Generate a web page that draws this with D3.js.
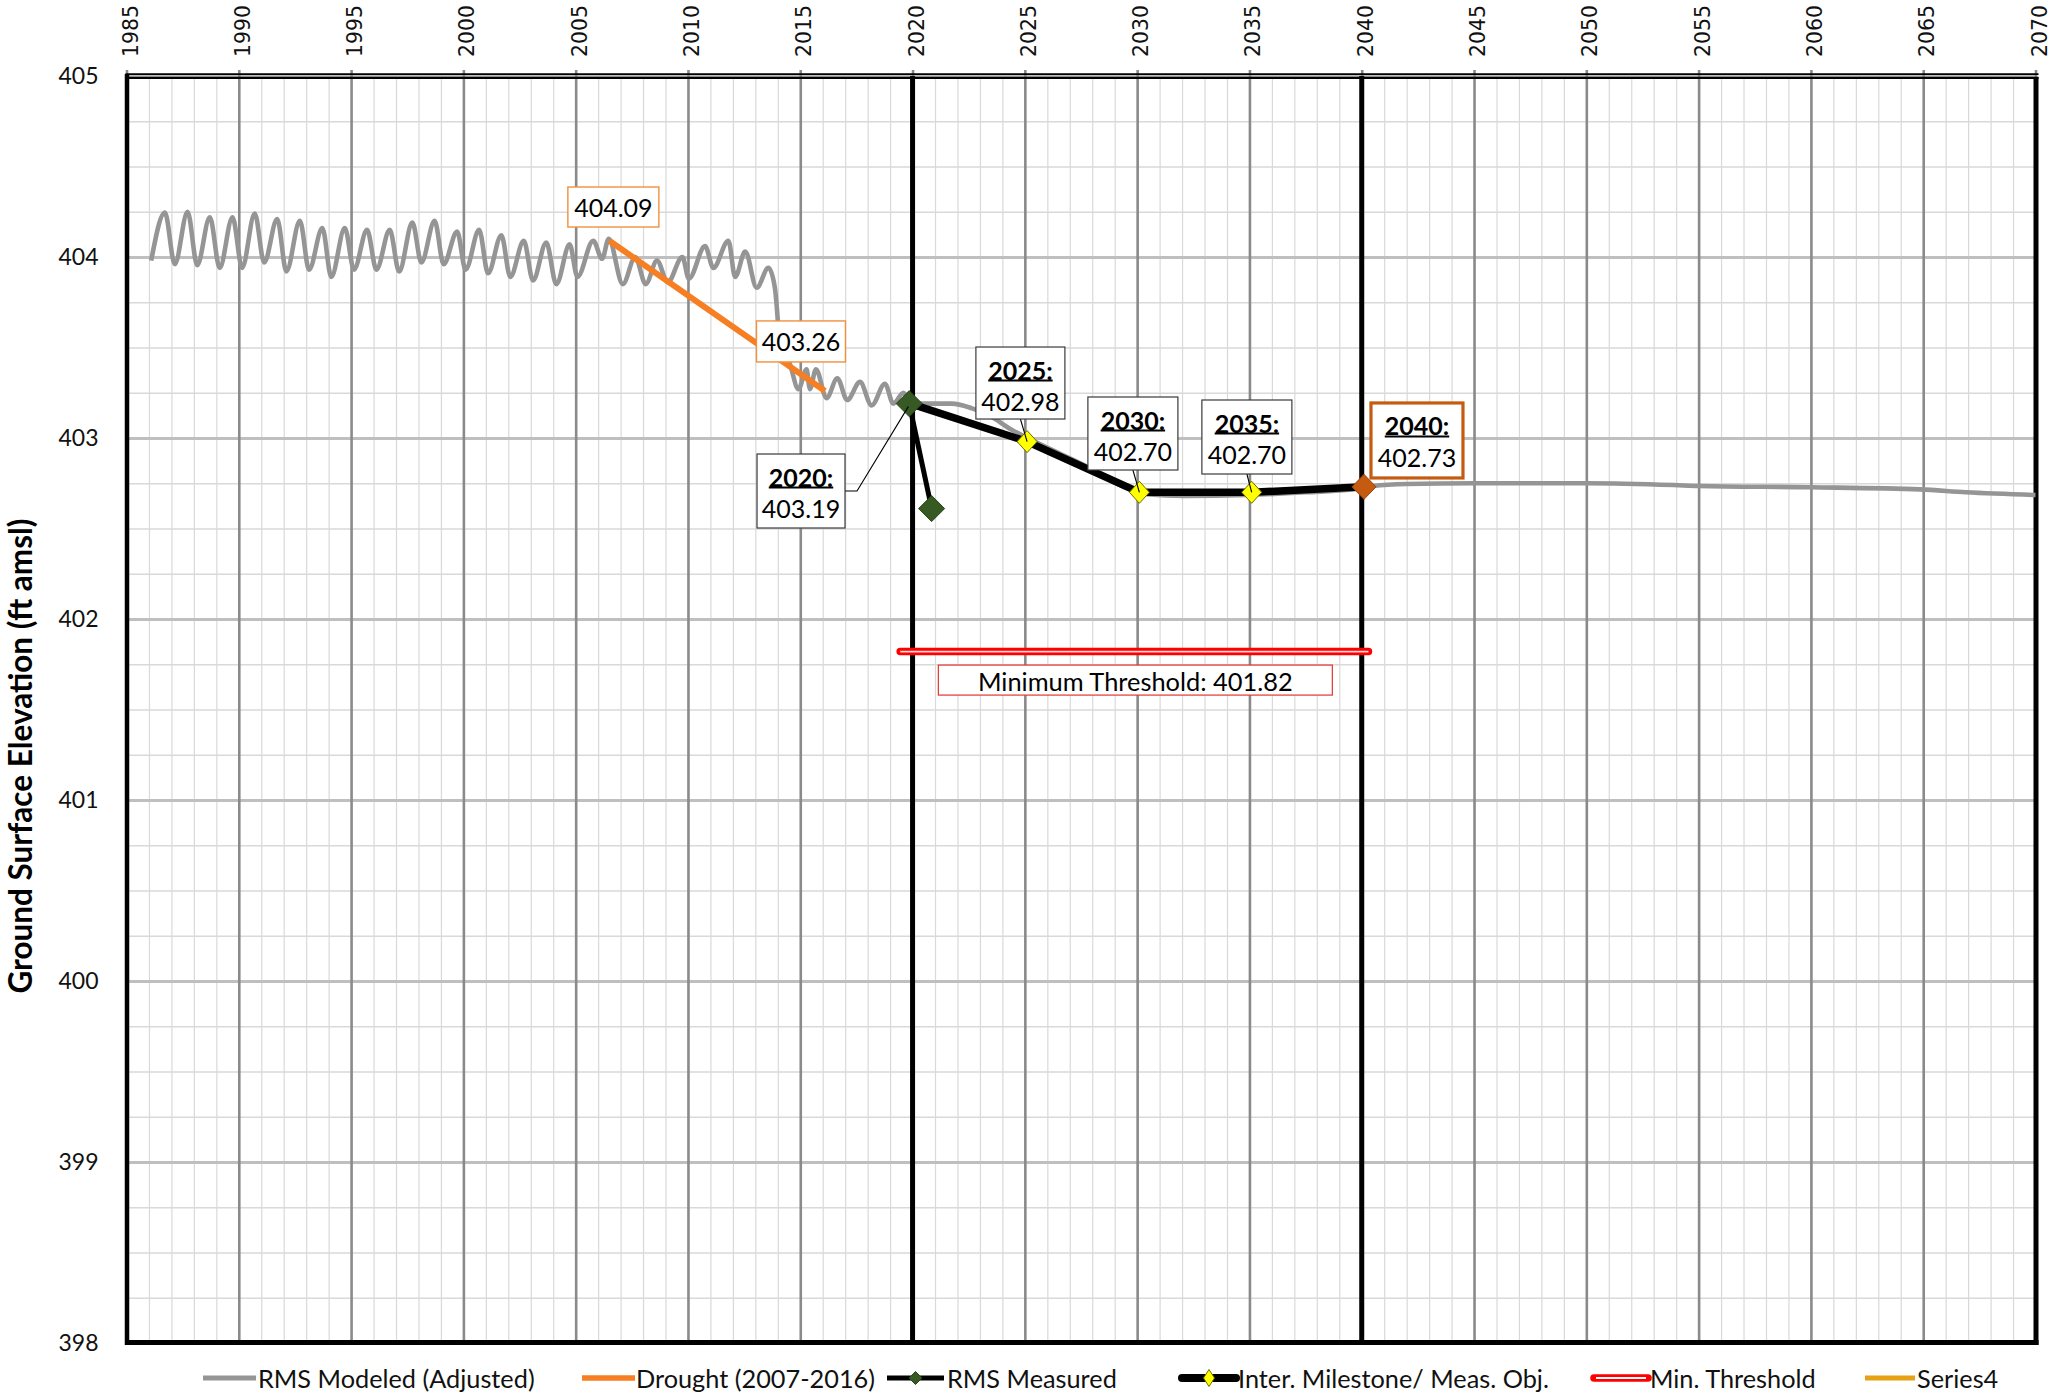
<!DOCTYPE html>
<html>
<head>
<meta charset="utf-8">
<script src="https://cdn.jsdelivr.net/npm/d3@7"></script>
<style>
  html, body { margin: 0; padding: 0; background: #fff; }
  svg { display: block; }
  .year-label { font-family: "DejaVu Sans", Verdana, sans-serif; font-size: 22px; }
</style>
</head>
<body>
<svg id="chart" width="2059" height="1396"></svg>
<script>
// ---------------- data ----------------
// RMS modeled (adjusted) ground surface elevation, seasonal record then projection
const modeledYears = [
  1986.10, 1986.71, 1987.15, 1987.72, 1988.15, 1988.71, 1989.15, 1989.72, 1990.15, 1990.71,
  1991.13, 1991.71, 1992.12, 1992.72, 1993.13, 1993.72, 1994.12, 1994.72, 1995.13, 1995.71,
  1996.13, 1996.72, 1997.14, 1997.73, 1998.13, 1998.72, 1999.12, 1999.72, 2000.10, 2000.70,
  2001.10, 2001.69, 2002.09, 2002.69, 2003.10, 2003.69, 2004.14, 2004.73, 2005.08, 2005.78,
  2006.18, 2006.47, 2007.10, 2007.65, 2008.12, 2008.62, 2009.10, 2009.75, 2010.04, 2010.76,
  2011.13, 2011.80, 2012.10, 2012.55, 2013.06, 2013.58, 2013.87, 2014.00, 2014.10, 2014.50,
  2014.92, 2015.28, 2015.43, 2015.70, 2016.17, 2016.65, 2017.09, 2017.66, 2018.18, 2018.77,
  2019.14, 2019.60, 2019.90, 2020.90, 2021.75, 2022.62, 2023.48, 2024.35, 2025.60, 2027.80,
  2029.40, 2030.40, 2032.10, 2034.90, 2037.50, 2039.90, 2040.50, 2042.00, 2045.00, 2050.00,
  2053.90, 2055.00, 2060.00, 2064.85, 2066.90, 2070.00
];
const modeledValues = [
  403.98, 404.245, 403.96, 404.25, 403.955, 404.22, 403.94, 404.22, 403.94, 404.24,
  403.97, 404.21, 403.92, 404.20, 403.93, 404.16, 403.89, 404.16, 403.93, 404.15,
  403.93, 404.15, 403.92, 404.19, 403.97, 404.20, 403.96, 404.14, 403.93, 404.15,
  403.91, 404.12, 403.89, 404.09, 403.87, 404.08, 403.85, 404.07, 403.89, 404.09,
  403.99, 404.10, 403.85, 404.00, 403.85, 403.98, 403.86, 404.00, 403.88, 404.06,
  403.94, 404.09, 403.89, 404.03, 403.83, 403.94, 403.83, 403.65, 403.47, 403.42,
  403.27, 403.38, 403.27, 403.38, 403.22, 403.33, 403.21, 403.31, 403.18, 403.30,
  403.19, 403.25, 403.19, 403.19, 403.19, 403.165, 403.12, 403.05, 402.97, 402.84,
  402.73, 402.69, 402.68, 402.685, 402.70, 402.72, 402.735, 402.746, 402.75, 402.75,
  402.74, 402.735, 402.728, 402.716, 402.70, 402.685
];

// Drought trend (2007-2016)
const droughtYears = [2006.5, 2016.1];
const droughtValues = [404.09, 403.26];

// RMS measured
const measuredYears = [2019.85, 2020.85];
const measuredValues = [403.19, 402.61];

// Interim milestones / measurable objective
const milestoneYears = [2019.9, 2025.1, 2030.1, 2035.1, 2040.1];
const milestoneValues = [403.19, 402.98, 402.70, 402.70, 402.73];
const milestoneNames = ["2020:", "2025:", "2030:", "2035:", "2040:"];

// Minimum threshold
const thresholdValue = 401.82;
const thresholdYears = [2019.45, 2040.3];

// Implementation period boundaries
const boundaryYears = [2020, 2040];

// Axis ticks
const xTickYears = d3.range(1985, 2071, 5);
const xMinorYears = d3.range(1985, 2071, 1);
const yTickValues = [398, 399, 400, 401, 402, 403, 404, 405];
const yMinorValues = d3.range(0, 29).map(i => 398 + i * 0.25);

// Legend entries
const legendNames = ["RMS Modeled (Adjusted)", "Drought (2007-2016)", "RMS Measured",
  "Inter. Milestone/ Meas. Obj.", "Min. Threshold", "Series4"];

// ---------------- layout ----------------
const svg = d3.select("#chart");
const x = d3.scaleLinear().domain([1985, 2070]).range([126.5, 2035.5]);
const y = d3.scaleLinear().domain([398, 405]).range([1343, 76]);
const plotTop = y(405), plotBottom = y(398), plotLeft = x(1985), plotRight = x(2070);
const bodyFont = "Lato, 'Open Sans', 'Liberation Sans', sans-serif";

const diamond = (w, h) => `M0,${-h / 2}L${w / 2},0L0,${h / 2}L${-w / 2},0Z`;

// ---------------- grid ----------------
const grid = svg.append("g");

grid.append("g")
  .attr("transform", `translate(0,${plotBottom})`)
  .call(d3.axisBottom(x).tickValues(xMinorYears).tickSize(-(plotBottom - plotTop)).tickFormat(""))
  .call(a => a.select(".domain").remove())
  .call(a => a.selectAll("line").attr("stroke", "#d9d9d9").attr("stroke-width", 1.2));

grid.append("g")
  .attr("transform", `translate(${plotLeft},0)`)
  .call(d3.axisLeft(y).tickValues(yMinorValues).tickSize(-(plotRight - plotLeft)).tickFormat(""))
  .call(a => a.select(".domain").remove())
  .call(a => a.selectAll("line").attr("stroke", "#d9d9d9").attr("stroke-width", 1.5));

grid.append("g")
  .attr("transform", `translate(${plotLeft},0)`)
  .call(d3.axisLeft(y).tickValues(yTickValues).tickSize(-(plotRight - plotLeft)).tickFormat(""))
  .call(a => a.select(".domain").remove())
  .call(a => a.selectAll("line").attr("stroke", "#bfbfbf").attr("stroke-width", 3));

grid.append("g")
  .attr("transform", `translate(0,${plotBottom})`)
  .call(d3.axisBottom(x).tickValues(xTickYears).tickSize(-(plotBottom - plotTop + 6)).tickFormat(""))
  .call(a => a.select(".domain").remove())
  .call(a => a.selectAll("line").attr("stroke", "#8a8a8a").attr("stroke-width", 2.6));

// ---------------- axes labels ----------------
const xAxis = svg.append("g")
  .attr("transform", `translate(0,${plotTop})`)
  .call(d3.axisTop(x).tickValues(xTickYears).tickSize(0).tickFormat(d3.format("d")))
  .call(a => a.select(".domain").remove())
  .attr("font-family", null).attr("font-size", null);
xAxis.selectAll("text")
  .attr("class", "year-label")
  .attr("x", 0).attr("y", 0).attr("dy", null)
  .attr("transform", `translate(3,${57 - plotTop}) rotate(-90)`)
  .attr("text-anchor", "start")
  .attr("dominant-baseline", "central")
  .attr("textLength", 52)
  .attr("lengthAdjust", "spacingAndGlyphs")
  .attr("fill", "#111");

const yAxis = svg.append("g")
  .attr("transform", `translate(${plotLeft},0)`)
  .call(d3.axisLeft(y).tickValues(yTickValues).tickSize(0).tickPadding(28).tickFormat(d3.format("d")))
  .call(a => a.select(".domain").remove());
yAxis.selectAll("text")
  .attr("font-family", bodyFont)
  .attr("font-size", 23)
  .attr("fill", "#111");

svg.append("text")
  .attr("transform", `translate(19.5,756) rotate(-90)`)
  .attr("text-anchor", "middle")
  .attr("dominant-baseline", "central")
  .attr("font-family", bodyFont)
  .attr("font-weight", "bold")
  .attr("font-size", 31.5)
  .attr("fill", "#000")
  .text("Ground Surface Elevation (ft amsl)");

// ---------------- plot frame ----------------
const frame = svg.append("g").attr("stroke", "#000").attr("fill", "none");
frame.append("line").attr("x1", plotLeft - 1).attr("x2", plotRight + 3).attr("y1", 74.2).attr("y2", 74.2).attr("stroke-width", 1.8);
frame.append("line").attr("x1", plotLeft - 1).attr("x2", plotRight + 3).attr("y1", 77.8).attr("y2", 77.8).attr("stroke-width", 2.3);
frame.append("line").attr("x1", plotLeft + 0.5).attr("x2", plotLeft + 0.5).attr("y1", 74).attr("y2", plotBottom + 2).attr("stroke-width", 4.5);
frame.append("line").attr("x1", plotRight + 0.5).attr("x2", plotRight + 0.5).attr("y1", 77).attr("y2", plotBottom + 2).attr("stroke-width", 5);
frame.append("line").attr("x1", plotLeft - 1.5).attr("x2", plotRight + 3).attr("y1", plotBottom - 0.5).attr("y2", plotBottom - 0.5).attr("stroke-width", 5);

// implementation period boundaries
svg.append("g").selectAll("line").data(boundaryYears).join("line")
  .attr("x1", d => x(d)).attr("x2", d => x(d))
  .attr("y1", plotTop).attr("y2", plotBottom)
  .attr("stroke", "#000").attr("stroke-width", 5);

// ---------------- series ----------------
// minimum threshold (double red line)
const thr = svg.append("g");
thr.append("line")
  .attr("x1", x(thresholdYears[0])).attr("x2", x(thresholdYears[1]))
  .attr("y1", y(thresholdValue)).attr("y2", y(thresholdValue))
  .attr("stroke", "#ff0000").attr("stroke-width", 7.5).attr("stroke-linecap", "round");
thr.append("line")
  .attr("x1", x(thresholdYears[0])).attr("x2", x(thresholdYears[1]))
  .attr("y1", y(thresholdValue)).attr("y2", y(thresholdValue))
  .attr("stroke", "#ffd6d6").attr("stroke-width", 1.6);

const modeled = modeledYears.map((yr, i) => [yr, modeledValues[i]]);
const lineGen = d3.line().x(d => x(d[0])).y(d => y(d[1]));

svg.append("path")
  .datum(modeled)
  .attr("d", lineGen.curve(d3.curveMonotoneX))
  .attr("fill", "none")
  .attr("stroke", "#959595")
  .attr("stroke-width", 4.6)
  .attr("stroke-linejoin", "round");

const drought = droughtYears.map((yr, i) => [yr, droughtValues[i]]);
svg.append("path")
  .datum(drought)
  .attr("d", d3.line().x(d => x(d[0])).y(d => y(d[1])))
  .attr("fill", "none")
  .attr("stroke", "#f57f22")
  .attr("stroke-width", 6);

const milestones = milestoneYears.map((yr, i) => [yr, milestoneValues[i]]);
svg.append("path")
  .datum(milestones)
  .attr("d", d3.line().x(d => x(d[0])).y(d => y(d[1])))
  .attr("fill", "none")
  .attr("stroke", "#000")
  .attr("stroke-width", 7.5)
  .attr("stroke-linejoin", "round");

const measured = measuredYears.map((yr, i) => [yr, measuredValues[i]]);
svg.append("path")
  .datum(measured)
  .attr("d", d3.line().x(d => x(d[0])).y(d => y(d[1])))
  .attr("fill", "none")
  .attr("stroke", "#000")
  .attr("stroke-width", 5);

// markers
svg.append("g").selectAll("path").data(measured).join("path")
  .attr("transform", d => `translate(${x(d[0])},${y(d[1])})`)
  .attr("d", diamond(26, 26))
  .attr("fill", "#375a25")
  .attr("stroke", "#2a4419").attr("stroke-width", 1);

svg.append("g").selectAll("path").data(milestones.slice(1)).join("path")
  .attr("transform", d => `translate(${x(d[0])},${y(d[1])})`)
  .attr("d", (d, i, n) => i === n.length - 1 ? diamond(24, 25) : diamond(20, 22))
  .attr("fill", (d, i, n) => i === n.length - 1 ? "#c55a11" : "#ffff00")
  .attr("stroke", (d, i, n) => i === n.length - 1 ? "#9a4209" : "#6b6b00")
  .attr("stroke-width", 1);

// ---------------- data labels ----------------
function valueBox(g, cx, top, w, h, border, bw) {
  g.append("rect")
    .attr("x", cx - w / 2).attr("y", top).attr("width", w).attr("height", h)
    .attr("fill", "#fff").attr("stroke", border).attr("stroke-width", bw);
}

// drought end-point labels
const droughtLayout = [{ dx: 4, dy: -53.7, w: 91, h: 40 }, { dx: -24, dy: -70, w: 89, h: 41 }];
drought.forEach((d, i) => {
  const L = droughtLayout[i];
  const cx = x(d[0]) + L.dx, top = y(d[1]) + L.dy;
  const g = svg.append("g");
  valueBox(g, cx, top, L.w, L.h, "#f0913f", 1.4);
  g.append("text")
    .attr("x", cx).attr("y", top + L.h / 2)
    .attr("text-anchor", "middle").attr("dominant-baseline", "central")
    .attr("font-family", bodyFont).attr("font-size", 25).attr("fill", "#000")
    .text(d[1].toFixed(2));
});

// milestone labels
const milestoneLayout = [
  { dx: -153.3, dy: 50.4, w: 88, h: 74, border: "#3a3a3a", bw: 1.2, leader: "elbow" },
  { dx: -51.2, dy: -94.6, w: 89, h: 72, border: "#3a3a3a", bw: 1.2, leader: "down" },
  { dx: -51.5, dy: -95.3, w: 90, h: 73, border: "#3a3a3a", bw: 1.2, leader: "down" },
  { dx: -49.8, dy: -92.3, w: 90, h: 74, border: "#3a3a3a", bw: 1.2, leader: "down" },
  { dx: 7, dy: -83.9, w: 92, h: 75, border: "#c55a11", bw: 3.2, leader: "none" }
];
milestones.forEach((d, i) => {
  const L = milestoneLayout[i];
  const px = x(d[0]), py = y(d[1]);
  const left = px + L.dx, top = py + L.dy, cx = left + L.w / 2;
  const g = svg.append("g");
  if (L.leader === "elbow") {
    g.append("path")
      .attr("d", d3.line()([[left + L.w, top + 37], [left + L.w + 12, top + 37], [px - 2, py + 3]]))
      .attr("fill", "none").attr("stroke", "#000").attr("stroke-width", 1.1);
  } else if (L.leader === "down") {
    g.append("line")
      .attr("x1", cx).attr("y1", top + L.h).attr("x2", px).attr("y2", py)
      .attr("stroke", "#000").attr("stroke-width", 1.1);
  }
  valueBox(g, cx, top, L.w, L.h, L.border, L.bw);
  const t1 = g.append("text")
    .attr("x", cx).attr("y", top + 22.5)
    .attr("text-anchor", "middle").attr("dominant-baseline", "central")
    .attr("font-family", bodyFont).attr("font-weight", "bold").attr("font-size", 25).attr("fill", "#000")
    .text(milestoneNames[i]);
  const tw = t1.node().getComputedTextLength();
  g.append("line")
    .attr("x1", cx - tw / 2).attr("x2", cx + tw / 2)
    .attr("y1", top + 33.5).attr("y2", top + 33.5)
    .attr("stroke", "#000").attr("stroke-width", 1.9);
  g.append("text")
    .attr("x", cx).attr("y", top + 54)
    .attr("text-anchor", "middle").attr("dominant-baseline", "central")
    .attr("font-family", bodyFont).attr("font-size", 25).attr("fill", "#000")
    .text(d[1].toFixed(2));
});

// threshold label
{
  const cx = (x(thresholdYears[0]) + x(thresholdYears[1])) / 2 + 1;
  const top = y(thresholdValue) + 13.5;
  const g = svg.append("g");
  g.append("rect")
    .attr("x", cx - 197).attr("y", top).attr("width", 394).attr("height", 30)
    .attr("fill", "#fff").attr("stroke", "#e0352f").attr("stroke-width", 1.2);
  g.append("text")
    .attr("x", cx).attr("y", top + 15.5)
    .attr("text-anchor", "middle").attr("dominant-baseline", "central")
    .attr("font-family", bodyFont).attr("font-size", 25.4).attr("fill", "#000")
    .text(`Minimum Threshold: ${thresholdValue.toFixed(2)}`);
}

// ---------------- legend ----------------
const legendY = 1378;
const legendLayout = [
  { x0: 203, x1: 256, tx: 258 },
  { x0: 582, x1: 635, tx: 636 },
  { x0: 887, x1: 944, tx: 947 },
  { x0: 1182, x1: 1236, tx: 1238 },
  { x0: 1594, x1: 1648, tx: 1650 },
  { x0: 1865, x1: 1915, tx: 1917 }
];
const legend = svg.append("g");
legendNames.forEach((name, i) => {
  const L = legendLayout[i];
  const g = legend.append("g");
  const cx = (L.x0 + L.x1) / 2;
  const seg = (stroke, w, cap) => g.append("line")
    .attr("x1", L.x0).attr("x2", L.x1).attr("y1", legendY).attr("y2", legendY)
    .attr("stroke", stroke).attr("stroke-width", w).attr("stroke-linecap", cap || "butt");
  if (i === 0) seg("#959595", 5);
  if (i === 1) seg("#f57f22", 5.5);
  if (i === 2) {
    seg("#000", 5);
    g.append("path").attr("transform", `translate(${cx},${legendY})`)
      .attr("d", diamond(13, 13)).attr("fill", "#375a25").attr("stroke", "#2a4419");
  }
  if (i === 3) {
    seg("#000", 8, "round");
    g.append("path").attr("transform", `translate(${cx},${legendY})`)
      .attr("d", diamond(11, 17)).attr("fill", "#ffff00").attr("stroke", "#6b6b00");
  }
  if (i === 4) {
    seg("#ff0000", 7.5, "round");
    g.append("line").attr("x1", L.x0 + 2).attr("x2", L.x1 - 2).attr("y1", legendY).attr("y2", legendY)
      .attr("stroke", "#fff").attr("stroke-width", 2);
  }
  if (i === 5) seg("#e5a214", 5);
  g.append("text")
    .attr("x", L.tx).attr("y", legendY)
    .attr("dominant-baseline", "central")
    .attr("font-family", bodyFont).attr("font-size", 25.3).attr("fill", "#111")
    .text(name);
});
</script>
</body>
</html>
